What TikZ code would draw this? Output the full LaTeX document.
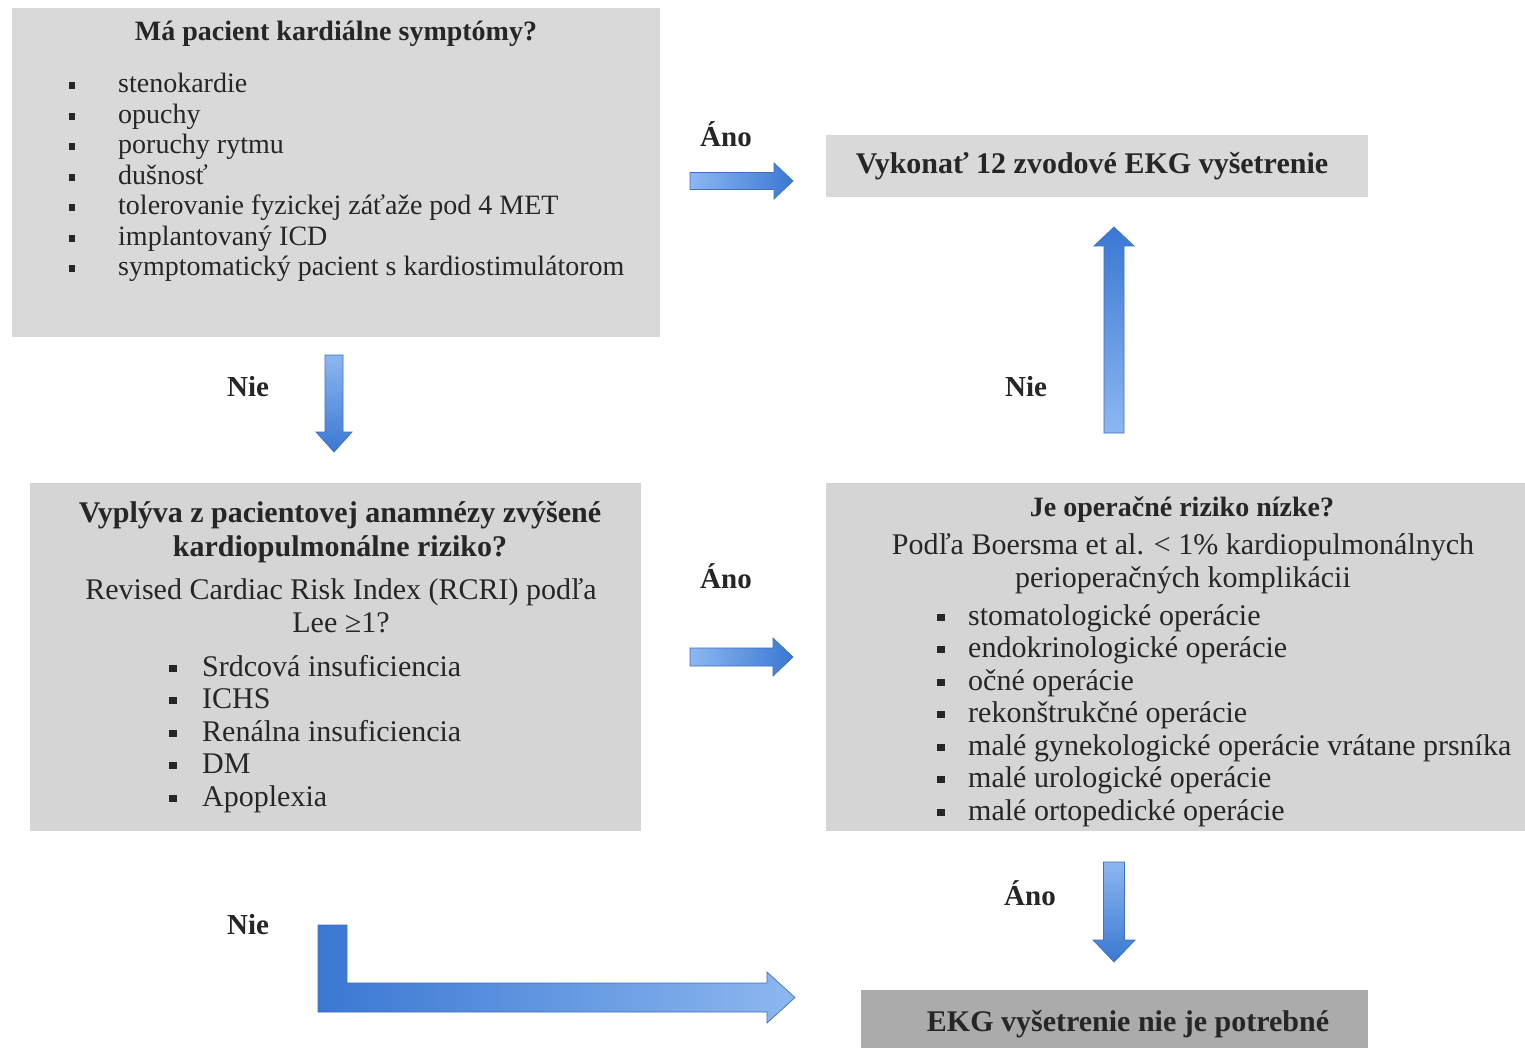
\documentclass[tikz,border=0pt]{standalone}
\usepackage{fontspec}
\setmainfont{Liberation Serif}
\usetikzlibrary{calc}
\definecolor{boxgray}{HTML}{D9D9D9}
\definecolor{boxgrayb}{HTML}{D5D5D5}
\definecolor{boxdark}{HTML}{ABABAB}
\definecolor{txtcol}{HTML}{262626}
\definecolor{arrlight}{HTML}{8DB7F0}
\definecolor{arrdark}{HTML}{3A78D3}
\definecolor{arrline}{HTML}{4070BC}
\newcommand\sqb{\rule[0.14em]{0.24em}{0.24em}}
% horizontal block arrow: tail, tip, half shaft, half head, head length
\newcommand\blkR[5]{\shadedraw[blkarrow, left color=arrlight, right color=arrdark]
  ($(#1)+(0,-#3)$) -- ($(#2)+(-#5,-#3)$) -- ($(#2)+(-#5,-#4)$) -- (#2) --
  ($(#2)+(-#5,#4)$) -- ($(#2)+(-#5,#3)$) -- ($(#1)+(0,#3)$) -- cycle;}
\newcommand\blkD[5]{\shadedraw[blkarrow, top color=arrlight, bottom color=arrdark]
  ($(#1)+(-#3,0)$) -- ($(#2)+(-#3,-#5)$) -- ($(#2)+(-#4,-#5)$) -- (#2) --
  ($(#2)+(#4,-#5)$) -- ($(#2)+(#3,-#5)$) -- ($(#1)+(#3,0)$) -- cycle;}
\newcommand\blkU[5]{\shadedraw[blkarrow, bottom color=arrlight, top color=arrdark]
  ($(#1)+(-#3,0)$) -- ($(#2)+(-#3,#5)$) -- ($(#2)+(-#4,#5)$) -- (#2) --
  ($(#2)+(#4,#5)$) -- ($(#2)+(#3,#5)$) -- ($(#1)+(#3,0)$) -- cycle;}
\begin{document}
\begin{tikzpicture}[x=1pt,y=-1pt,
  box/.style={fill=boxgray, draw=none, inner sep=0pt, anchor=north west},
  ttl/.style={anchor=base, inner sep=0pt, text=txtcol},
  txt/.style={anchor=base west, inner sep=0pt, text=txtcol},
  bul/.style={anchor=base, inner sep=0pt, text=txtcol},
  bf28/.style={font=\bfseries\fontsize{28}{32}\selectfont},
  bf30/.style={font=\bfseries\fontsize{30}{34}\selectfont},
  rm28/.style={font=\fontsize{28}{32}\selectfont},
  rm30/.style={font=\fontsize{30}{34}\selectfont},
  lbl/.style={anchor=base, inner sep=0pt, text=txtcol, font=\bfseries\fontsize{29}{32}\selectfont},
  blkarrow/.style={draw=arrline, line width=0.7pt, line join=miter}]
\useasboundingbox (0,0) rectangle (1525,1048);
\fill[white] (0,0) rectangle (1525,1048);

% boxes
\node[box, minimum width=648pt, minimum height=329pt] (q1) at (12,8) {};
\node[box, minimum width=542pt, minimum height=62pt] (ekg) at (826,135) {};
\node[box, fill=boxgrayb, minimum width=611pt, minimum height=348pt] (q2) at (30,483) {};
\node[box, fill=boxgrayb, minimum width=699pt, minimum height=348pt] (q3) at (826,483) {};
\node[box, fill=boxdark, minimum width=507pt, minimum height=58pt] (none) at (861,990) {};

% box 1
\node[ttl, bf28] (q1t) at (336,41) {Má pacient kardiálne symptómy?};
\foreach \t [count=\i] in {stenokardie, opuchy, poruchy rytmu, dušnosť,
  tolerovanie fyzickej záťaže pod 4 MET, implantovaný ICD,
  symptomatický pacient s kardiostimulátorom}{
  \node[txt, rm28] (q1l\i) at (118,{93+(\i-1)*30.5}) {\t};
  \node[bul, rm28] (q1b\i) at (72,{93+(\i-1)*30.5}) {\sqb};
}

% box 2
\node[ttl, bf30] (ekgt) at (1092,174) {Vykonať 12 zvodové EKG vyšetrenie};

% box 3
\node[ttl, bf30] (q2t1) at (340,522) {Vyplýva z pacientovej anamnézy zvýšené};
\node[ttl, bf30] (q2t2) at (340,556) {kardiopulmonálne riziko?};
\node[ttl, rm30] (q2r1) at (341,599) {Revised Cardiac Risk Index (RCRI) podľa};
\node[ttl, rm30] (q2r2) at (341,632) {Lee ≥1?};
\foreach \t [count=\i] in {Srdcová insuficiencia, ICHS, Renálna insuficiencia, DM, Apoplexia}{
  \node[txt, rm30] (q2l\i) at (202,{676+(\i-1)*32.5}) {\t};
  \node[bul, rm30] (q2b\i) at (173,{676+(\i-1)*32.5}) {\sqb};
}

% box 4
\node[ttl, bf28] (q3t) at (1182,516) {Je operačné riziko nízke?};
\node[ttl, rm30] (q3r1) at (1183,554) {Podľa Boersma et al. < 1\% kardiopulmonálnych};
\node[ttl, rm30] (q3r2) at (1183,587) {perioperačných komplikácii};
\foreach \t [count=\i] in {stomatologické operácie, endokrinologické operácie,
  očné operácie, rekonštrukčné operácie, malé gynekologické operácie vrátane prsníka,
  malé urologické operácie, malé ortopedické operácie}{
  \node[txt, rm30] (q3l\i) at (968,{625+(\i-1)*32.5}) {\t};
  \node[bul, rm30] (q3b\i) at (941,{625+(\i-1)*32.5}) {\sqb};
}

% box 5
\node[ttl, bf30] (nonet) at (1128,1031) {EKG vyšetrenie nie je potrebné};

% labels
\node[lbl] (l1) at (726,147) {Áno};
\node[lbl] (l2) at (248,396) {Nie};
\node[lbl] (l3) at (1026,396) {Nie};
\node[lbl] (l4) at (726,588) {Áno};
\node[lbl] (l5) at (1030,905) {Áno};
\node[lbl] (l6) at (248,934) {Nie};

% arrow end points
\coordinate (a1t) at (690,181);  \coordinate (a1h) at (793,181);
\coordinate (a2t) at (334,355);  \coordinate (a2h) at (334,452);
\coordinate (a3t) at (1114,433); \coordinate (a3h) at (1114,227);
\coordinate (a4t) at (690,657);  \coordinate (a4h) at (793,657);
\coordinate (a5t) at (1114,862); \coordinate (a5h) at (1114,962);

\blkR{a1t}{a1h}{8.5}{18}{19}
\blkD{a2t}{a2h}{9}{18}{20}
\blkU{a3t}{a3h}{10}{20}{19}
\blkR{a4t}{a4h}{9}{19}{20}
\blkD{a5t}{a5h}{10.5}{21}{22}

% L-shaped arrow
\coordinate (Lt) at (332.5,925);
\coordinate (Lh) at (795,997.5);
\shadedraw[blkarrow, left color=arrdark, right color=arrlight]
  ($(Lt)+(-14.5,0)$) -- ($(Lt)+(14.5,0)$) -- ($(Lt)+(14.5,58)$)
  -- ($(Lh)+(-28,-14.5)$) -- ($(Lh)+(-28,-25.5)$) -- (Lh) -- ($(Lh)+(-28,25.5)$)
  -- ($(Lh)+(-28,14.5)$) -- ($(Lt)+(-14.5,87)$) -- cycle;
\end{tikzpicture}
\end{document}
